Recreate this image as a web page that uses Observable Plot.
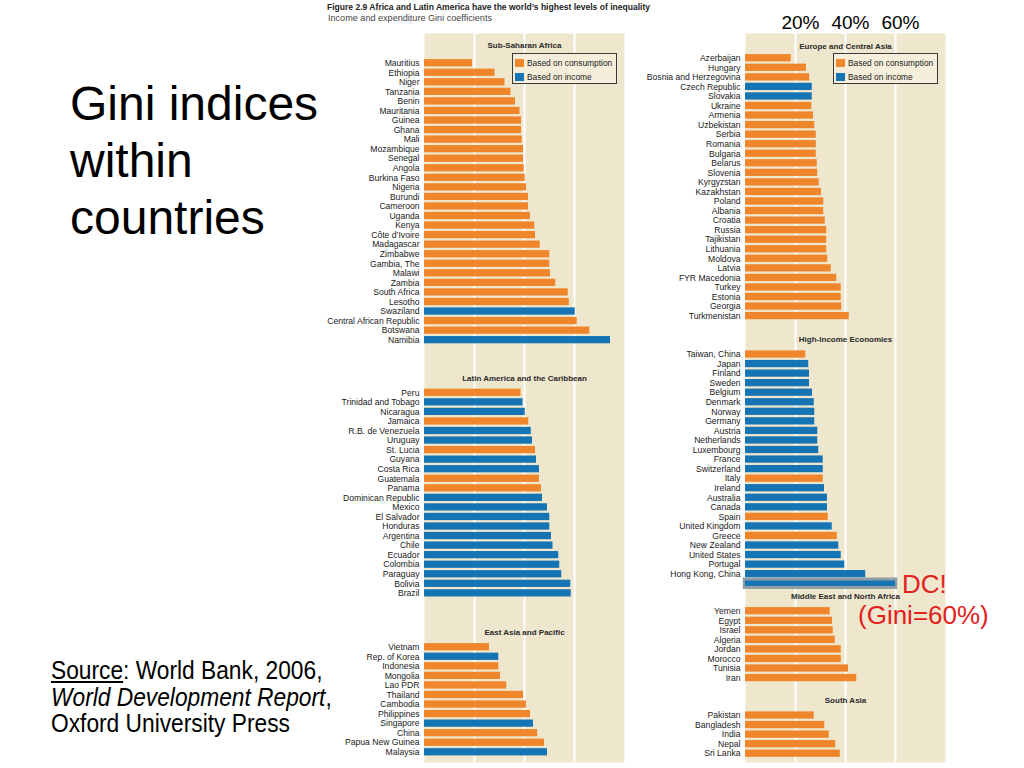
<!DOCTYPE html>
<html>
<head>
<meta charset="utf-8">
<script src="https://cdn.jsdelivr.net/npm/d3@7"></script>
<script src="https://cdn.jsdelivr.net/npm/@observablehq/plot@0.6"></script>
<style>
html, body { margin: 0; padding: 0; background: #fff; }
#page { position: relative; width: 1024px; height: 768px; overflow: hidden; font-family: "Liberation Sans", Arial, sans-serif; color: #000; }
.abs { position: absolute; white-space: nowrap; }
#title { left: 70px; top: 75px; font-size: 48px; line-height: 57px; white-space: normal; width: 260px; }
#source { left: 51px; top: 657px; font-size: 25px; line-height: 26.5px; transform: scaleX(0.91); transform-origin: 0 0; }
#figcap { left: 327px; top: 2px; font-size: 9px; line-height: 10px; font-weight: bold; color: #222; transform-origin: 0 0; }
#figsub { left: 328px; top: 13px; font-size: 9px; line-height: 10px; color: #444; transform-origin: 0 0; }
.legend { position: absolute; width: 103px; height: 29px; border: 1px solid #3a3a3a; background: #f4eedb; font-size: 8.4px; color: #222; z-index: 3; }
.legend .sw { position: absolute; left: 2px; width: 9px; height: 8px; }
.legend .lt { position: absolute; left: 14px; line-height: 10px; white-space: nowrap; }
.red { color: #e3211c; font-size: 26px; line-height: 26px; z-index: 5; }
</style>
</head>
<body>
<div id="page">
  <div id="figcap" class="abs">Figure 2.9 Africa and Latin America have the world’s highest levels of inequality</div>
  <div id="figsub" class="abs">Income and expenditure Gini coefficients</div>
  <div id="title" class="abs">Gini indices within countries</div>
  <div id="source" class="abs"><u>Source</u>: World Bank, 2006,<br><i>World Development Report</i>,<br>Oxford University Press</div>
  <div id="dc1" class="abs red" style="left:902px; top:571px;">DC!</div>
  <div id="dc2" class="abs red" style="left:858px; top:602px;">(Gini=60%)</div>
</div>
<script>
// ---------------- data ----------------
const basisNames = ["Based on consumption", "Based on income"];
const basisColors = ["#f0862c", "#1574b3"];

const ssaCountries = ["Mauritius","Ethiopia","Niger","Tanzania","Benin","Mauritania","Guinea","Ghana","Mali","Mozambique","Senegal","Angola","Burkina Faso","Nigeria","Burundi","Cameroon","Uganda","Kenya","Côte d’Ivoire","Madagascar","Zimbabwe","Gambia, The","Malawi","Zambia","South Africa","Lesotho","Swaziland","Central African Republic","Botswana","Namibia"];
const ssaGini = [19.2,28.2,32.2,34.6,36.4,38.2,38.8,38.8,39.1,39.6,39.6,39.9,40.3,40.8,41.6,41.6,42.4,44.1,44.4,46.3,50.1,50.1,50.4,52.5,57.5,57.9,60.3,61.1,66.1,74.4];
const ssaBasis = ["c","c","c","c","c","c","c","c","c","c","c","c","c","c","c","c","c","c","c","c","c","c","c","c","c","c","i","c","c","i"];

const lacCountries = ["Peru","Trinidad and Tobago","Nicaragua","Jamaica","R.B. de Venezuela","Uruguay","St. Lucia","Guyana","Costa Rica","Guatemala","Panama","Dominican Republic","Mexico","El Salvador","Honduras","Argentina","Chile","Ecuador","Colombia","Paraguay","Bolivia","Brazil"];
const lacGini = [38.6,39.4,40.3,41.7,42.7,43.2,44.4,44.8,46.0,46.0,46.8,47.2,49.2,50.1,50.1,50.8,51.4,53.7,54.1,54.9,58.5,58.7];
const lacBasis = ["c","i","i","c","i","i","c","i","i","c","c","i","i","i","i","i","i","i","i","i","i","i"];

const eapCountries = ["Vietnam","Rep. of Korea","Indonesia","Mongolia","Lao PDR","Thailand","Cambodia","Philippines","Singapore","China","Papua New Guinea","Malaysia"];
const eapGini = [26.0,29.7,29.7,30.4,32.9,39.6,40.8,42.4,43.6,45.3,48.0,49.2];
const eapBasis = ["c","i","c","c","c","c","c","c","i","c","c","i"];

const ecaCountries = ["Azerbaijan","Hungary","Bosnia and Herzegovina","Czech Republic","Slovakia","Ukraine","Armenia","Uzbekistan","Serbia","Romania","Bulgaria","Belarus","Slovenia","Kyrgyzstan","Kazakhstan","Poland","Albania","Croatia","Russia","Tajikistan","Lithuania","Moldova","Latvia","FYR Macedonia","Turkey","Estonia","Georgia","Turkmenistan"];
const ecaGini = [18.3,24.4,25.7,26.7,26.7,26.5,27.2,27.7,28.3,28.3,28.3,28.7,28.9,29.5,30.4,31.3,31.3,31.9,32.5,32.5,32.5,32.9,34.3,36.5,38.3,38.3,38.5,41.5];
const ecaBasis = ["c","c","c","i","i","c","c","c","c","c","c","c","c","c","c","c","c","c","c","c","c","c","c","c","c","c","c","c"];

const hiCountries = ["Taiwan, China","Japan","Finland","Sweden","Belgium","Denmark","Norway","Germany","Austria","Netherlands","Luxembourg","France","Switzerland","Italy","Ireland","Australia","Canada","Spain","United Kingdom","Greece","New Zealand","United States","Portugal","Hong Kong, China"];
const hiGini = [24.1,25.3,25.6,25.6,26.8,27.5,27.7,27.7,28.9,28.9,29.3,31.1,31.1,31.1,31.6,32.8,32.8,33.1,34.7,36.7,37.3,38.3,39.7,48.1];
const hiBasis = ["c","i","i","i","i","i","i","i","i","i","i","i","i","c","i","i","i","c","i","c","i","i","i","i"];

const dcGini = [60];
const dcBasis = ["i"];

const menaCountries = ["Yemen","Egypt","Israel","Algeria","Jordan","Morocco","Tunisia","Iran"];
const menaGini = [33.9,34.8,35.1,35.9,38.3,38.3,41.2,44.5];
const menaBasis = ["c","c","c","c","c","c","c","c"];

const sasCountries = ["Pakistan","Bangladesh","India","Nepal","Sri Lanka"];
const sasGini = [27.5,31.7,33.5,36.1,37.9];
const sasBasis = ["c","c","c","c","c"];

const axisTicks = [20, 40, 60];

// ---------------- layout (row units) ----------------
const beige = "#eee6cd";
const rowsTotal = 76.33;

const leftPanels = [
  {title: "Sub-Saharan Africa", countries: ssaCountries, gini: ssaGini, basis: ssaBasis, titleRow: 1.26, firstRow: 3.11},
  {title: "Latin America and the Caribbean", countries: lacCountries, gini: lacGini, basis: lacBasis, titleRow: 36.16, firstRow: 37.62},
  {title: "East Asia and Pacific", countries: eapCountries, gini: eapGini, basis: eapBasis, titleRow: 62.69, firstRow: 64.26}
];
const rightPanels = [
  {title: "Europe and Central Asia", countries: ecaCountries, gini: ecaGini, basis: ecaBasis, titleRow: 1.33, firstRow: 2.59},
  {title: "High-Income Economies", countries: hiCountries, gini: hiGini, basis: hiBasis, titleRow: 32.04, firstRow: 33.61},
  {title: "Middle East and North Africa", countries: menaCountries, gini: menaGini, basis: menaBasis, titleRow: 58.92, firstRow: 60.49},
  {title: "South Asia", countries: sasCountries, gini: sasGini, basis: sasBasis, titleRow: 69.87, firstRow: 71.41}
];

const basisOf = b => b === "i" ? basisNames[1] : basisNames[0];
function panelRows(p) {
  return p.countries.map((c, i) => ({country: c, gini: p.gini[i], basis: basisOf(p.basis[i]), row: p.firstRow + i}));
}

function column(panels, {left, width, marginLeft, marginRight, extra = []}) {
  const data = panels.flatMap(panelRows);
  const titles = panels.map(p => ({title: p.title, row: p.titleRow}));
  const svg = Plot.plot({
    width, height: 768,
    marginTop: 33, marginBottom: 6, marginLeft, marginRight,
    x: {domain: [0, 80], axis: null, label: null},
    y: {domain: [0, rowsTotal], range: [33, 762], axis: null},
    color: {domain: basisNames, range: basisColors},
    style: {fontFamily: "'Liberation Sans', Arial, sans-serif", background: "transparent", overflow: "visible", color: "#000"},
    marks: [
      Plot.frame({fill: beige, stroke: "none"}),
      Plot.gridX(axisTicks, {stroke: "#ffffff", strokeOpacity: 1, strokeWidth: 2}),
      Plot.rect(data, {x1: 0, x2: "gini", y1: d => d.row - 0.38, y2: d => d.row + 0.38, fill: "basis"}),
      Plot.text(data, {x: 0, y: "row", text: "country", textAnchor: "end", dx: -5, fontSize: 8.6, fill: "#1a1a1a"}),
      Plot.text(titles, {x: 40, y: "row", text: "title", fontWeight: "bold", fontSize: 8, fill: "#2a2a2a"}),
      ...extra
    ]
  });
  svg.style.position = "absolute";
  svg.style.left = left + "px";
  svg.style.top = "0px";
  svg.style.zIndex = "1";
  document.getElementById("page").appendChild(svg);
  return svg;
}

column(leftPanels, {left: 320, width: 310, marginLeft: 104, marginRight: 6});

const hi = rightPanels[1];
const dcRow = hi.firstRow + hi.countries.length;
const dcData = dcGini.map((g, i) => ({gini: g, basis: basisOf(dcBasis[i]), row: dcRow}));

column(rightPanels, {
  left: 640, width: 384, marginLeft: 105, marginRight: 79,
  extra: [
    Plot.axisX(axisTicks, {anchor: "top", tickSize: 0, tickPadding: 5, tickFormat: d => d + "%", fontSize: 19, dx: 5, fill: "#000", label: null}),
    Plot.rect(dcData, {x1: 0, x2: "gini", y1: d => d.row - 0.6, y2: d => d.row + 0.6, fill: "#8d9ea6", insetLeft: -2.2, insetRight: -2.2}),
    Plot.rect(dcData, {x1: 0, x2: "gini", y1: d => d.row - 0.28, y2: d => d.row + 0.28, fill: "basis"})
  ]
});

// legends
function legend(left, top) {
  const div = document.createElement("div");
  div.className = "legend";
  div.style.left = left + "px";
  div.style.top = top + "px";
  basisNames.forEach((name, i) => {
    const sw = document.createElement("div");
    sw.className = "sw";
    sw.style.top = (5 + i * 13.6) + "px";
    sw.style.background = basisColors[i];
    const t = document.createElement("div");
    t.className = "lt";
    t.style.top = (4 + i * 13.6) + "px";
    t.textContent = name;
    div.appendChild(sw);
    div.appendChild(t);
  });
  document.getElementById("page").appendChild(div);
}
legend(512, 53);
legend(833, 53);

// fit figure caption widths
function fitWidth(id, target) {
  const el = document.getElementById(id);
  const w = el.getBoundingClientRect().width;
  if (w > 0) el.style.transform = `scaleX(${target / w})`;
}
fitWidth("figcap", 323);
fitWidth("figsub", 164);
</script>
</body>
</html>
